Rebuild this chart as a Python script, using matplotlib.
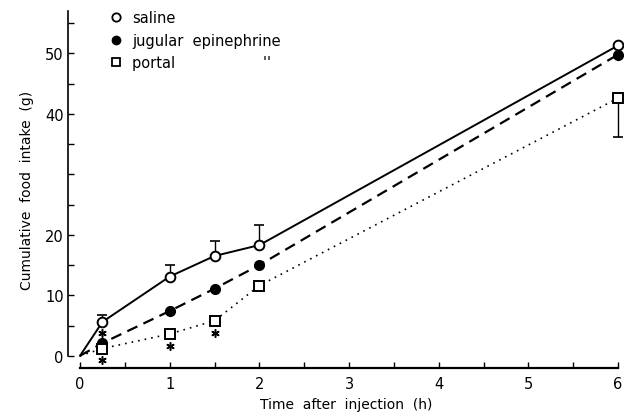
import matplotlib.pyplot as plt
from matplotlib.lines import Line2D

# data
t = [0, 0.25, 1, 1.5, 2, 6]
saline = [0, 5.6, 13.1, 16.5, 18.3, 51.3]
saline_err = [0, 1.2, 1.9, 2.5, 3.3, 0]
jugular = [0, 2.1, 7.4, 11.1, 15.0, 49.8]
portal = [0, 1.2, 3.6, 5.8, 11.6, 42.6]
portal_err = [0, 0, 0, 0, 0, 6.4]
star_t = [0.25, 0.25, 1, 1.5]
star_y = [3.8, -0.7, 1.6, 3.8]

fig = plt.figure(figsize=(6.24, 4.14), dpi=100)
ax = fig.add_axes([0.109, 0.109, 0.893, 0.862])

ax.plot(t, saline, color='black', lw=1.4, ls='-', marker='o', mfc='white',
        mec='black', ms=7, mew=1.4, markevery=[1, 2, 3, 4, 5], zorder=3)
ax.plot(t, jugular, color='black', lw=1.6, ls=(0, (5, 3)), marker='o', mfc='black',
        mec='black', ms=7, markevery=[1, 2, 3, 4, 5], zorder=3)
ax.plot(t, portal, color='black', lw=1.2, ls=(0, (1, 3)), marker='s', mfc='white',
        mec='black', ms=6.5, mew=1.4, markevery=[1, 2, 3, 4, 5], zorder=3)

ax.errorbar(t[1:5], saline[1:5], yerr=[[0] * 4, saline_err[1:5]], fmt='none',
            ecolor='black', elinewidth=1.0, capsize=3.5, capthick=1.2, zorder=2)
ax.errorbar(t[5:], portal[5:], yerr=[portal_err[5:], [0]], fmt='none',
            ecolor='black', elinewidth=1.0, capsize=3.5, capthick=1.2, zorder=2)

ax.plot(star_t, star_y, ls='none', marker=(6, 2, 0), color='black', ms=6, mew=1.1)

ax.set_xlim(-0.134, 6.08)
ax.set_ylim(-2, 57)
for s in ['top', 'right']:
    ax.spines[s].set_visible(False)
ax.spines['left'].set_bounds(0, 57)
ax.spines['bottom'].set_bounds(0, 6)
ax.spines['left'].set_linewidth(1.2)
ax.spines['bottom'].set_linewidth(1.6)

ax.set_xticks([i * 0.5 for i in range(13)], minor=True)
ax.set_xticks([0, 1, 2, 3, 4, 5, 6])
ax.set_xticklabels(['0', '1', '2', '3', '4', '5', '6'])
ax.set_yticks([i * 5 for i in range(12)], minor=True)
ax.set_yticks([0, 10, 20, 40, 50])
ax.set_yticklabels(['0', '10', '20', '40', '50'])
ax.tick_params(which='both', direction='in', length=4, width=1, labelsize=10.5)
ax.tick_params(axis='x', which='major', pad=6)
ax.tick_params(axis='y', which='major', pad=3)

ax.set_xlabel('Time  after  injection  (h)', fontsize=10, labelpad=4)
ax.set_ylabel('Cumulative  food  intake  (g)', fontsize=10, labelpad=8)

handles = [
    Line2D([], [], ls='none', marker='o', mfc='white', mec='black', ms=6, mew=1.3),
    Line2D([], [], ls='none', marker='o', mfc='black', mec='black', ms=6),
    Line2D([], [], ls='none', marker='s', mfc='white', mec='black', ms=6, mew=1.3),
]
labels = ['saline', 'jugular  epinephrine', "portal                   ''"]
ax.legend(handles, labels, loc='upper left', bbox_to_anchor=(0.068, 1.018),
          frameon=False, handlelength=0.6, handletextpad=0.8, labelspacing=0.5,
          fontsize=10.5, borderaxespad=0)

fig.savefig('out.png', dpi=100)
